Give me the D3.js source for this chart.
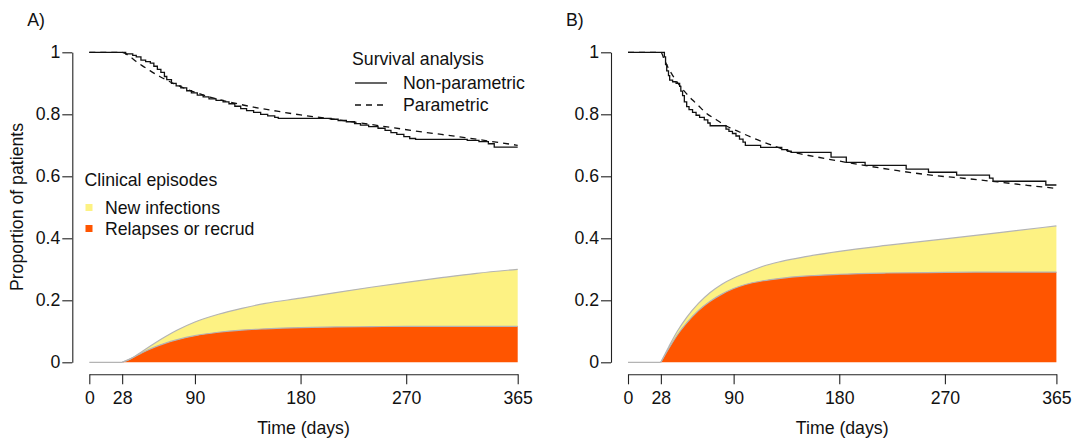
<!DOCTYPE html>
<html>
<head>
<meta charset="utf-8">
<script src="https://cdnjs.cloudflare.com/ajax/libs/d3/7.8.5/d3.min.js"></script>
<style>
  body { margin: 0; background: #fff; }
  text { font-family: "Liberation Sans", Arial, sans-serif; fill: #111; }
</style>
</head>
<body>
<div id="chart"></div>
<script>
// ---- data ----
var xTicks = [0, 28, 90, 180, 270, 365];
var yTicks = [0, 0.2, 0.4, 0.6, 0.8, 1];

// panel A: Kaplan-Meier steps (day, survival)
var kmDaysA = [0, 31, 37, 40, 44, 48, 52, 55, 58, 61, 64, 66, 70, 74, 78, 83, 87, 92, 97, 102, 108, 114, 119, 124, 129, 134, 140, 146, 152, 158, 161, 206, 212, 219, 226, 231, 238, 246, 252, 257, 262, 268, 273, 278, 322, 332, 340, 345, 365];
var kmSurvA = [1, 0.995, 0.99, 0.985, 0.975, 0.97, 0.965, 0.955, 0.945, 0.935, 0.922, 0.912, 0.9, 0.892, 0.885, 0.876, 0.869, 0.862, 0.856, 0.85, 0.845, 0.84, 0.834, 0.826, 0.818, 0.812, 0.806, 0.8, 0.795, 0.79, 0.787, 0.784, 0.78, 0.776, 0.77, 0.765, 0.76, 0.755, 0.748, 0.741, 0.735, 0.728, 0.722, 0.719, 0.716, 0.712, 0.705, 0.694, 0.694];
// panel A: parametric fit
var fitDaysA = [0, 28, 35, 40, 45, 50, 55, 60, 66, 75, 85, 95, 110, 125, 140, 160, 180, 200, 220, 240, 260, 280, 300, 320, 340, 365];
var fitSurvA = [1, 1, 0.985, 0.97, 0.957, 0.945, 0.933, 0.922, 0.91, 0.894, 0.878, 0.865, 0.848, 0.835, 0.823, 0.81, 0.798, 0.788, 0.778, 0.767, 0.756, 0.745, 0.735, 0.725, 0.714, 0.70];
// panel A: cumulative clinical episodes
var epiDaysA = [28, 35, 45, 55, 65, 75, 90, 110, 130, 150, 180, 210, 240, 270, 300, 330, 365];
var totalA   = [0, 0.011, 0.035, 0.06, 0.083, 0.104, 0.13, 0.155, 0.174, 0.19, 0.207, 0.225, 0.242, 0.258, 0.273, 0.287, 0.30];
var relapseA = [0, 0.011, 0.031, 0.048, 0.062, 0.073, 0.086, 0.097, 0.104, 0.108, 0.112, 0.114, 0.115, 0.116, 0.116, 0.116, 0.116];

// panel B: Kaplan-Meier steps
var kmDaysB = [0, 31, 32, 33, 34.5, 35.5, 38, 41, 44, 45, 46.5, 48, 50, 52, 55, 58, 61, 65, 68, 70, 83.5, 86, 89, 92, 95, 98, 100, 113, 131, 136, 139, 173, 186, 202, 237, 256, 280, 308, 311, 356, 365];
var kmSurvB = [1, 0.985, 0.96, 0.94, 0.925, 0.91, 0.905, 0.9, 0.89, 0.875, 0.86, 0.84, 0.825, 0.815, 0.806, 0.797, 0.79, 0.782, 0.772, 0.763, 0.752, 0.745, 0.738, 0.73, 0.72, 0.71, 0.70, 0.693, 0.686, 0.681, 0.677, 0.662, 0.645, 0.635, 0.623, 0.613, 0.604, 0.594, 0.584, 0.572, 0.572];
var fitDaysB = [0, 28, 31, 34, 37, 40, 45, 50, 55, 60, 66, 75, 83, 95, 105, 120, 140, 160, 180, 200, 230, 260, 290, 315, 340, 365];
var fitSurvB = [1, 1, 0.975, 0.952, 0.932, 0.914, 0.888, 0.866, 0.846, 0.828, 0.806, 0.783, 0.764, 0.743, 0.726, 0.704, 0.678, 0.663, 0.649, 0.636, 0.618, 0.603, 0.592, 0.582, 0.571, 0.561];
var epiDaysB = [28, 35, 42, 50, 60, 70, 80, 90, 100, 115, 130, 150, 180, 220, 270, 320, 365];
var totalB   = [0, 0.052, 0.1, 0.145, 0.19, 0.225, 0.252, 0.272, 0.288, 0.31, 0.325, 0.34, 0.358, 0.377, 0.398, 0.42, 0.44];
var relapseB = [0, 0.046, 0.088, 0.127, 0.167, 0.197, 0.22, 0.238, 0.251, 0.263, 0.271, 0.278, 0.284, 0.288, 0.29, 0.291, 0.291];

var yellow = "#fdf283", orange = "#ff5500", outline = "#b4b4b4";
var fs = 17.7;

var svg = d3.select("#chart").append("svg")
    .attr("width", 1075).attr("height", 441);

function zip(xs, ys) { return xs.map(function(d, i) { return [d, ys[i]]; }); }

function panel(left, label, km, fit, epi, legends) {
  var x = d3.scaleLinear().domain([0, 365]).range([left, left + 428.4]);
  var y = d3.scaleLinear().domain([0, 1]).range([362.3, 52.3]);
  var g = svg.append("g");

  // stacked episodes
  var area = d3.area().curve(d3.curveMonotoneX)
      .x(function(d) { return x(d[0]); })
      .y0(function(d) { return y(d[2]); })
      .y1(function(d) { return y(d[1]); });
  var rows = epi.days.map(function(d, i) { return [d, epi.total[i], epi.relapse[i]]; });
  g.append("path").datum(rows).attr("fill", yellow).attr("d", area);
  g.append("path").datum(rows).attr("fill", orange)
    .attr("d", area.y1(function(d) { return y(d[2]); }).y0(y(0)));
  var edge = d3.line().curve(d3.curveMonotoneX).x(function(d) { return x(d[0]); });
  g.append("path").datum(rows).attr("fill", "none").attr("stroke", outline).attr("stroke-width", 1.2)
    .attr("d", edge.y(function(d) { return y(d[1]); }));
  g.append("path").datum(rows).attr("fill", "none").attr("stroke", outline).attr("stroke-width", 1.2)
    .attr("d", edge.y(function(d) { return y(d[2]); }));
  g.append("line").attr("x1", x(0)).attr("x2", x(28)).attr("y1", y(0)).attr("y2", y(0))
    .attr("stroke", outline).attr("stroke-width", 1.2);

  // survival curves
  g.append("path").datum(zip(fit.days, fit.surv))
    .attr("fill", "none").attr("stroke", "#111").attr("stroke-width", 1.3)
    .attr("stroke-dasharray", "6,5")
    .attr("d", d3.line().curve(d3.curveMonotoneX).x(function(d) { return x(d[0]); }).y(function(d) { return y(d[1]); }));
  g.append("path").datum(zip(km.days, km.surv))
    .attr("fill", "none").attr("stroke", "#111").attr("stroke-width", 1.3)
    .attr("d", d3.line().curve(d3.curveStepAfter).x(function(d) { return x(d[0]); }).y(function(d) { return y(d[1]); }));

  // axes
  var ya = g.append("g").attr("transform", "translate(" + (left - 17) + ",0)")
    .call(d3.axisLeft(y).tickValues(yTicks).tickFormat(String).tickSize(10).tickSizeOuter(0).tickPadding(2));
  var xa = g.append("g").attr("transform", "translate(0,374.3)")
    .call(d3.axisBottom(x).tickValues(xTicks).tickFormat(String).tickSize(10).tickSizeOuter(0).tickPadding(7));
  [ya, xa].forEach(function(a) {
    a.selectAll("path, line").attr("stroke", "#222").attr("stroke-width", 1.1);
    a.selectAll("text").style("font-size", fs + "px").attr("fill", "#111");
  });

  g.append("text").attr("x", (x(0) + x(365)) / 2).attr("y", 434)
    .attr("text-anchor", "middle").style("font-size", fs + "px").text("Time (days)");
  g.append("text").attr("x", left - 62).attr("y", 26).style("font-size", fs + "px").text(label);

  if (legends) {
    var lg = g.append("g");
    lg.append("text").attr("x", 352).attr("y", 65).style("font-size", fs + "px").text("Survival analysis");
    [["Non-parametric", null, 89], ["Parametric", "6,5", 111]].forEach(function(it) {
      lg.append("line").attr("x1", 355).attr("x2", 387).attr("y1", it[2] - 6).attr("y2", it[2] - 6)
        .attr("stroke", "#111").attr("stroke-width", 1.3).attr("stroke-dasharray", it[1]);
      lg.append("text").attr("x", 403).attr("y", it[2]).style("font-size", fs + "px").text(it[0]);
    });
    lg.append("text").attr("x", 84.5).attr("y", 186).style("font-size", fs + "px").text("Clinical episodes");
    [["New infections", yellow, 214], ["Relapses or recrud", orange, 235]].forEach(function(it) {
      lg.append("rect").attr("x", 85.5).attr("y", it[2] - 10).attr("width", 7).attr("height", 7).attr("fill", it[1]);
      lg.append("text").attr("x", 105).attr("y", it[2]).style("font-size", fs + "px").text(it[0]);
    });
  }
}

panel(89.3, "A)", {days: kmDaysA, surv: kmSurvA}, {days: fitDaysA, surv: fitSurvA},
      {days: epiDaysA, total: totalA, relapse: relapseA}, true);
panel(628, "B)", {days: kmDaysB, surv: kmSurvB}, {days: fitDaysB, surv: fitSurvB},
      {days: epiDaysB, total: totalB, relapse: relapseB}, false);

svg.append("text").attr("transform", "translate(23,207) rotate(-90)")
  .attr("text-anchor", "middle").style("font-size", fs + "px").text("Proportion of patients");
</script>
</body>
</html>
